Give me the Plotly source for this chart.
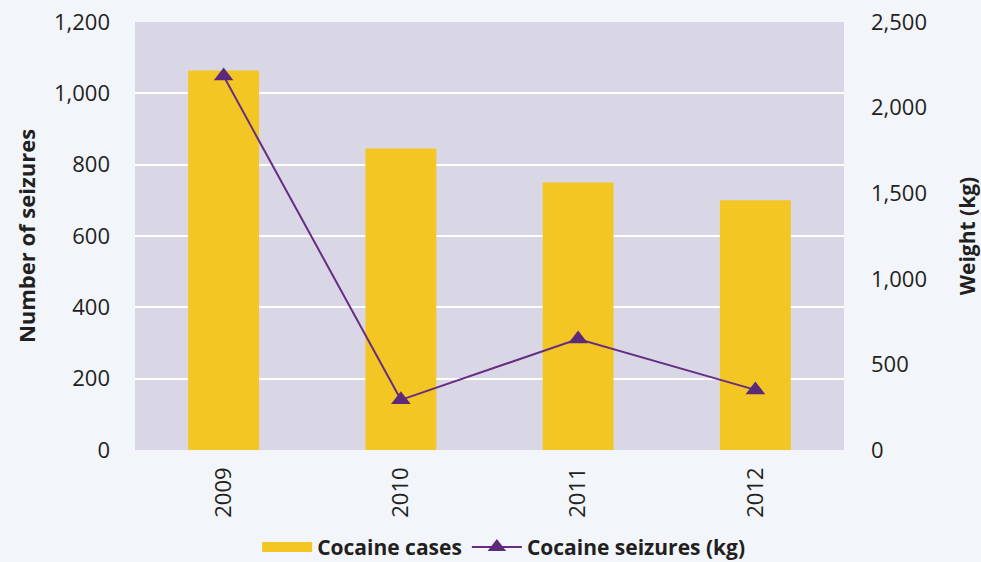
import plotly.graph_objects as go

years = ["2009", "2010", "2011", "2012"]
cocaine_cases = [1064, 845, 750, 700]
cocaine_seizures_kg = [2184, 293, 648, 351]
left_ticks = [0, 200, 400, 600, 800, 1000, 1200]
right_ticks = [0, 500, 1000, 1500, 2000, 2500]

font_family = "Open Sans, Liberation Sans, sans-serif"
bar_color = "#F4C623"

fig = go.Figure()
fig.add_trace(go.Bar(
    x=years, y=cocaine_cases, name="Cocaine cases",
    marker=dict(color=bar_color, line=dict(width=0)),
    yaxis="y", showlegend=False,
))
# legend entry for the bars (wide rectangle swatch)
fig.add_trace(go.Scatter(
    x=[None], y=[None], name="Cocaine cases", mode="lines",
    line=dict(color=bar_color, width=18), yaxis="y",
))
fig.add_trace(go.Scatter(
    x=years, y=cocaine_seizures_kg, name="Cocaine seizures (kg)",
    mode="lines+markers",
    line=dict(color="#672D83", width=2),
    marker=dict(symbol="triangle-up", size=17, color="#5B2A7A"),
    yaxis="y2",
))

fig.update_layout(
    width=981, height=562,
    margin=dict(l=135, r=137, t=22, b=112, autoexpand=False),
    paper_bgcolor="#F2F5FA",
    plot_bgcolor="#D9D7E5",
    font=dict(family=font_family, size=22, color="#231F20"),
    bargap=0.6,
    showlegend=True,
    legend=dict(
        orientation="h", x=0.52, xanchor="center",
        yref="container", y=0.026, yanchor="middle",
        font=dict(size=21, color="#231F20", family=font_family, weight="bold"),
        bgcolor="rgba(0,0,0,0)", traceorder="normal",
        itemwidth=50, tracegroupgap=0,
    ),
    xaxis=dict(
        type="category", tickangle=-90, showgrid=False, ticks="",
        tickfont=dict(size=22), showline=False, zeroline=False,
        ticklabelstandoff=12, automargin=False,
    ),
    yaxis=dict(
        range=[0, 1200], tickvals=left_ticks, tickformat=",",
        showgrid=True, gridcolor="#FFFFFF", gridwidth=2, zeroline=False,
        title=dict(text="Number of seizures", font=dict(size=22, weight="bold"), standoff=12),
        tickfont=dict(size=22), ticks="", ticklabelstandoff=24, automargin=False,
    ),
    yaxis2=dict(
        range=[0, 2500], tickvals=right_ticks, tickformat=",",
        overlaying="y", side="right", showgrid=False, zeroline=False,
        title=dict(text="Weight (kg)", font=dict(size=21, weight="bold"), standoff=34),
        tickfont=dict(size=22), ticks="", ticklabelstandoff=26, automargin=False,
    ),
)

fig.write_html("out.html", config={"displayModeBar": False},
               post_script="document.body.style.margin='0';")
